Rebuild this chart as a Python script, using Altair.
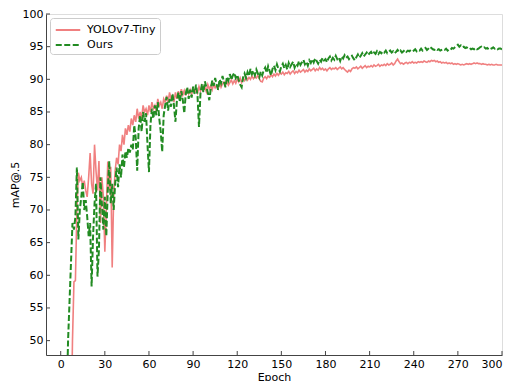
import altair as alt
import pandas as pd

# ---- data ----
x_ticks = [0, 30, 60, 90, 120, 150, 180, 210, 240, 270, 300]
y_ticks = [50, 55, 60, 65, 70, 75, 80, 85, 90, 95, 100]
series_names = ["YOLOv7-Tiny", "Ours"]

yolo_start = 7
yolo_vals = [
    35, 50, 59, 59.2, 70, 75.7, 74.5, 75, 73.5, 74.5,            # 7-16
    73, 72, 75, 78.7, 74, 72.5, 80, 76, 73, 77.5,                # 17-26
    68, 75, 72, 63.6, 70, 77.4, 73, 76.6, 61.2, 72,              # 27-36
    76, 78, 77, 80, 79, 81.5, 80, 82.5, 81.5, 83,                # 37-46
    82, 84, 83, 84.5, 83.5, 85.5, 84, 85, 84, 86,                # 47-56
    85, 85.5, 84.5, 86, 85, 86.5, 85.5, 86, 85, 87,              # 57-66
    86, 86.5, 85.5, 87, 86.5, 87.5, 86.5, 88, 87, 87.5,          # 67-76
    86.5, 88, 87, 88.2, 87.3, 88.5, 87.6, 88.3, 87.5, 88.6,      # 77-86
    87.8, 88.4, 87.7, 88.8, 88, 88.5, 87.9, 88.9, 88.2, 89,      # 87-96
    88.3, 88.8, 88.1, 89.2, 88.5, 89, 88.4, 89.3, 88.7, 89.1,    # 97-106
    88.6, 89.5, 88.8, 89.3, 89.6, 89, 89.7, 89.1, 89.5, 89.9,    # 107-116
    89.3, 89.8, 89.4, 90, 89.6, 90.2, 89.5, 90.1, 89.8, 90.4,    # 117-126
    89.9, 90.3, 90, 90.5, 90.1, 90.4, 90.2, 90.6, 90.1, 89.7,    # 127-136
    89.6, 90.2, 90.4, 90.1, 90.5, 90.3, 90.7, 90.4, 90.8, 90.5,  # 137-146
    90.9, 90.6, 91, 90.8, 91.1, 90.7, 91, 90.9, 91.2, 90.8,      # 147-156
    91.1, 91.3, 90.9, 91.2, 91, 91.4, 91.1, 91.3, 91.5, 91.1,    # 157-166
    91.4, 91.2, 91.6, 91.3, 91.5, 91.7, 91.3, 91.6, 91.4, 91.8,  # 167-176
    91.5, 91.7, 91.4, 91.6, 91.3, 91.6, 91.8, 91.5, 91.7, 91.6,  # 177-186
    91.8, 91.5, 91.7, 91.9, 91.6, 91.8, 91.5, 91.3, 91.1, 91.4,  # 187-196
    91.2, 91.6, 91.8, 91.7, 91.9, 91.6, 91.8, 92, 91.7, 91.9,    # 197-206
    92.1, 91.8, 92, 91.9, 92.1, 91.9, 92.2, 92, 92.1, 92.3,      # 207-216
    92, 92.2, 92.1, 92.3, 92.1, 92.4, 92.2, 92.3, 92.5, 92.2,    # 217-226
    92.4, 92.8, 93.1, 92.7, 92.4, 92.5, 92.3, 92.5, 92.6, 92.4,  # 227-236
    92.6, 92.5, 92.7, 92.5, 92.6, 92.5, 92.7, 92.6, 92.7, 92.6,  # 237-246
    92.8, 92.7, 92.6, 92.8, 92.7, 92.9, 92.8, 92.9, 92.7, 92.8,  # 247-256
    92.6, 92.7, 92.5, 92.6, 92.5, 92.6, 92.4, 92.5, 92.4, 92.5,  # 257-266
    92.3, 92.4, 92.3, 92.4, 92.3, 92.2, 92.3, 92.2, 92.3, 92.4,  # 267-276
    92.3, 92.4, 92.3, 92.4, 92.5, 92.4, 92.5, 92.4, 92.4, 92.3,  # 277-286
    92.4, 92.3, 92.3, 92.2, 92.3, 92.2, 92.3, 92.2, 92.2, 92.3,  # 287-296
    92.2, 92.2, 92.2, 92.2,                                      # 297-300
]

ours_start = 4
ours_vals = [
    40, 50, 56, 62, 68, 67, 69, 76.5, 65.5, 70,                  # 4-13
    72, 74.3, 70, 71.5, 69, 66, 68, 58.3, 66, 71,                # 14-23
    74, 59.8, 64, 75, 71, 67, 72, 66, 73, 77.5,                  # 24-33
    71, 74, 70, 74, 76.5, 73.5, 77, 75, 78.5, 76.5,              # 34-43
    79, 78, 79.5, 78.8, 80, 79.2, 83, 81, 76, 82.5,              # 44-53
    84.5, 82, 85, 83.5, 84.8, 80, 75.8, 83, 85.5, 84,            # 54-63
    86, 84.5, 86.5, 84, 82, 78.9, 84.5, 86, 87.3, 85.2,          # 64-73
    87, 85.8, 87.8, 86, 83.5, 86.8, 88, 86.5, 88.2, 86.8,        # 74-83
    84.8, 87.8, 88.8, 87, 88.4, 87.2, 88.9, 87.8, 89.2, 87.5,    # 84-93
    82.7, 87.8, 89.3, 88, 89.7, 88.8, 88, 86.8, 88.5, 89.8,      # 94-103
    89, 90.2, 89.2, 88.4, 90, 89.4, 90.5, 89.6, 88.8, 90.4,      # 104-113
    89.8, 90.8, 89.9, 90.6, 91, 90.2, 90.7, 89.9, 89.2, 88.8,    # 114-123
    90.3, 90.9, 90.2, 91.1, 90.5, 91.6, 90.8, 91.3, 90.6, 91.5,  # 124-133
    90.9, 90.3, 91.2, 90.6, 91.4, 91.8, 91, 92, 91.3, 90.6,      # 134-143
    91.6, 92.1, 91.4, 92.3, 91.6, 91.2, 92, 92.4, 91.7, 92.2,    # 144-153
    91.5, 92.5, 91.9, 92.3, 92.7, 91.8, 92.4, 92.1, 92.8, 92.2,  # 154-163
    92.6, 93, 92.3, 92.7, 92.1, 92.9, 92.5, 93.1, 92.6, 93.2,    # 164-173
    92.8, 92.4, 93, 92.7, 93.3, 92.9, 93.1, 92.6, 93.2, 93.5,    # 174-183
    92.9, 93.3, 93, 93.6, 93.1, 93.4, 92.8, 93.5, 93.2, 93.7,    # 184-193
    93.3, 93.5, 93.1, 93.4, 93.6, 93.2, 92.9, 93.4, 93.8, 93.3,  # 194-203
    93.6, 94, 93.5, 93.8, 94.1, 93.7, 94, 94.2, 93.8, 94.1,      # 204-213
    93.9, 94.3, 93.9, 94.2, 94, 94.3, 94.1, 94.4, 94, 94.2,      # 214-223
    94.4, 94.1, 94.3, 94, 94.2, 94.5, 94.2, 94.4, 94.1, 94.3,    # 224-233
    94.5, 94.2, 94.4, 94.3, 94.5, 94.3, 94.4, 94.6, 94.3, 94.5,  # 234-243
    94.4, 94.7, 94.4, 94.6, 94.8, 94.5, 94.7, 95, 94.8, 94.6,    # 244-253
    94.5, 94.7, 94.5, 94.6, 94.4, 94.5, 94.6, 94.5, 94.7, 94.4,  # 254-263
    94.6, 94.5, 94.8, 94.7, 94.9, 95.1, 95.3, 95, 95.2, 94.9,    # 264-273
    95, 94.8, 94.9, 94.7, 94.8, 94.6, 94.7, 94.6, 94.8, 94.6,    # 274-283
    94.7, 94.9, 95, 94.8, 94.9, 94.7, 94.8, 94.6, 94.8, 94.7,    # 284-293
    94.9, 94.7, 94.8, 94.6, 94.7, 94.7, 94.6,                    # 294-300
]

# ---- build tables ----
df_yolo = pd.DataFrame({
    "Epoch": list(range(yolo_start, yolo_start + len(yolo_vals))),
    "mAP": yolo_vals,
    "Model": series_names[0],
})
df_ours = pd.DataFrame({
    "Epoch": list(range(ours_start, ours_start + len(ours_vals))),
    "mAP": ours_vals,
    "Model": series_names[1],
})
df_xt = pd.DataFrame({"Epoch": x_ticks})
df_yt = pd.DataFrame({"mAP": y_ticks})

W, H = 456, 341
FONT = "DejaVu Sans"

x_scale = alt.Scale(domain=[-10, 300], nice=False, zero=False)
y_scale = alt.Scale(domain=[47.8, 100], nice=False, zero=False)

color_scale = alt.Scale(domain=series_names, range=["#F08080", "#228B22"])
dash_scale = alt.Scale(domain=series_names, range=[[1, 0], [6, 2.5]])

legend = alt.Legend(
    title=None, orient="none", legendX=4, legendY=4,
    symbolType="M-1.75,0H1.75", symbolSize=196, symbolStrokeWidth=2,
    symbolOffset=6,
    labelFontSize=11, labelFont=FONT, labelColor="black",
    fillColor="white", strokeColor="#cccccc", cornerRadius=3,
    padding=4, rowPadding=2, labelOffset=11,
)

x_axis = alt.Axis(
    values=x_ticks, title="Epoch", grid=False, ticks=False, labelOverlap=False,
    labelFontSize=11, labelFont=FONT, labelColor="black", labelPadding=3,
    titleFontSize=11, titleFont=FONT, titleFontWeight="normal", titleColor="black",
    titleY=22, titleBaseline="middle", domainColor="#444444",
)
y_axis = alt.Axis(
    values=y_ticks, title="mAP@.5", grid=False, ticks=False, labelOverlap=False,
    labelFontSize=11, labelFont=FONT, labelColor="black", labelPadding=3,
    titleFontSize=11, titleFont=FONT, titleFontWeight="normal", titleColor="black",
    titleX=-31, titleBaseline="middle", domainColor="#444444",
)

def line_layer(df, width):
    return alt.Chart(df).mark_line(clip=True, strokeWidth=width).encode(
        x=alt.X("Epoch:Q", scale=x_scale, axis=x_axis),
        y=alt.Y("mAP:Q", scale=y_scale, axis=y_axis),
        color=alt.Color("Model:N", scale=color_scale, legend=legend),
        strokeDash=alt.StrokeDash("Model:N", scale=dash_scale, legend=legend),
    )

red = line_layer(df_yolo, 1.6)
green = line_layer(df_ours, 2.0)

xticks = alt.Chart(df_xt).mark_rule(color="#444444", strokeWidth=1).encode(
    x=alt.X("Epoch:Q", scale=x_scale, axis=x_axis),
    y=alt.value(H), y2=alt.value(H - 4),
)
yticks = alt.Chart(df_yt).mark_rule(color="#444444", strokeWidth=1).encode(
    y=alt.Y("mAP:Q", scale=y_scale, axis=y_axis),
    x=alt.value(0), x2=alt.value(4),
)

chart = alt.layer(red, green, xticks, yticks).properties(
    width=W, height=H,
    autosize=alt.AutoSizeParams(type="none"),
    padding={"left": 38, "top": 6, "right": 3, "bottom": 26},
).configure_view(stroke="#444444", strokeWidth=1).configure(background="white")

chart.save("out.html", embed_options={"renderer": "svg", "actions": False})
